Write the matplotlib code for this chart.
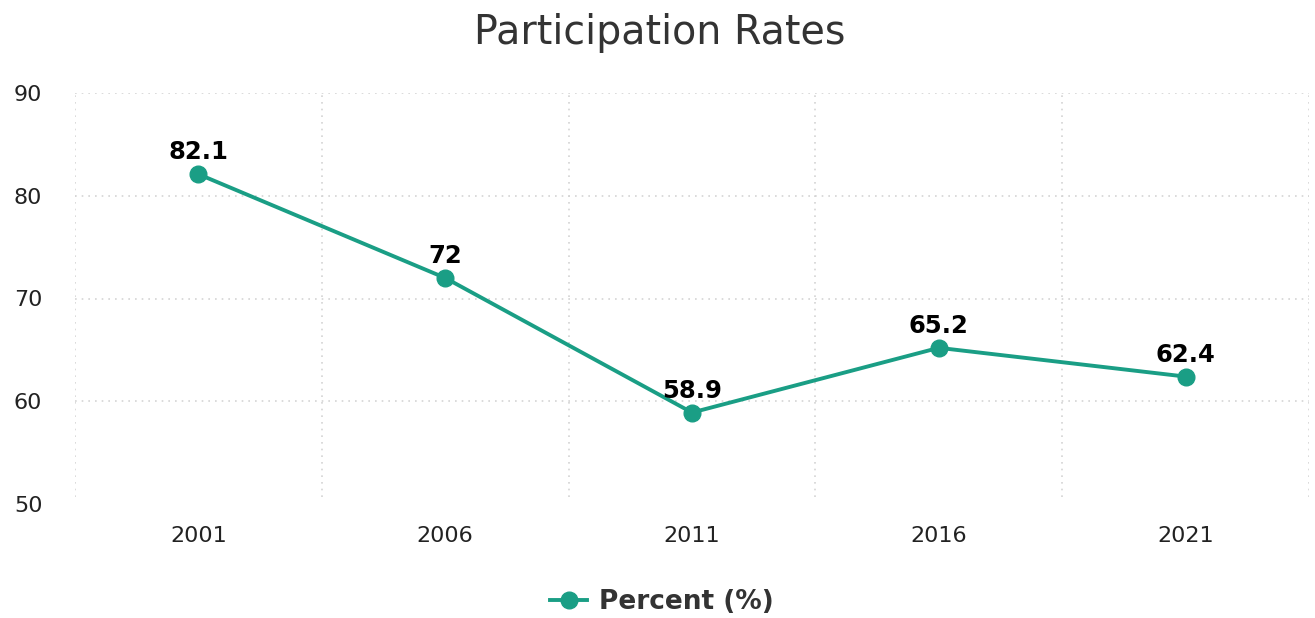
import matplotlib
matplotlib.use("Agg")
import matplotlib.pyplot as plt
from matplotlib.lines import Line2D

years = ["2001", "2006", "2011", "2016", "2021"]
percent = [82.1, 72.0, 58.9, 65.2, 62.4]
labels = ["82.1", "72", "58.9", "65.2", "62.4"]
yticks = [50, 60, 70, 80, 90]

color = "#1a9e85"

fig = plt.figure(figsize=(13.15, 6.18), dpi=100)
ax = fig.add_axes([75/1315, 1-504/618, (1309-75)/1315, (504-93)/618])

x = list(range(len(years)))
ax.set_xlim(-0.5, len(years) - 0.5)
ax.set_ylim(50, 90)

# grid
for yv in yticks[1:]:
    ax.axhline(yv, color="#d4d4d4", linestyle=(0, (1, 3)), linewidth=1.2, zorder=0)
for xv in [i - 0.5 for i in range(len(years) + 1)]:
    ax.plot([xv, xv], [50.7, 90], color="#d4d4d4", linestyle=(0, (1, 3)), linewidth=1.2, zorder=0)

ax.plot(x, percent, color=color, linewidth=2.8, marker="o", markersize=12, zorder=3)

for xi, yi, lab in zip(x, percent, labels):
    ax.annotate(lab, (xi, yi), xytext=(0, 7), textcoords="offset points",
                ha="center", va="bottom", fontsize=17.5, fontweight="bold", color="black")

ax.set_xticks(x)
ax.set_xticklabels(years)
ax.set_yticks(yticks)
ax.tick_params(axis="both", length=0, labelsize=16, labelcolor="#222222")
ax.tick_params(axis="x", pad=16)
ax.tick_params(axis="y", pad=44)
for lab in ax.get_yticklabels():
    lab.set_horizontalalignment("left")
    lab.set_verticalalignment("center_baseline")
for s in ax.spines.values():
    s.set_visible(False)

fig.text(660/1315, 1-33/618, "Participation Rates", ha="center", va="center",
         fontsize=28.5, color="#333333")

handle = Line2D([0], [0], color=color, linewidth=2.8, marker="o", markersize=12)
fig.legend([handle], ["Percent (%)"], loc="center", bbox_to_anchor=(662/1315, 1-602/618),
           frameon=False, prop={"size": 19, "weight": "bold"}, labelcolor="#333333",
           handlelength=1.4, handletextpad=0.45)

fig.savefig("out.png", dpi=100)
